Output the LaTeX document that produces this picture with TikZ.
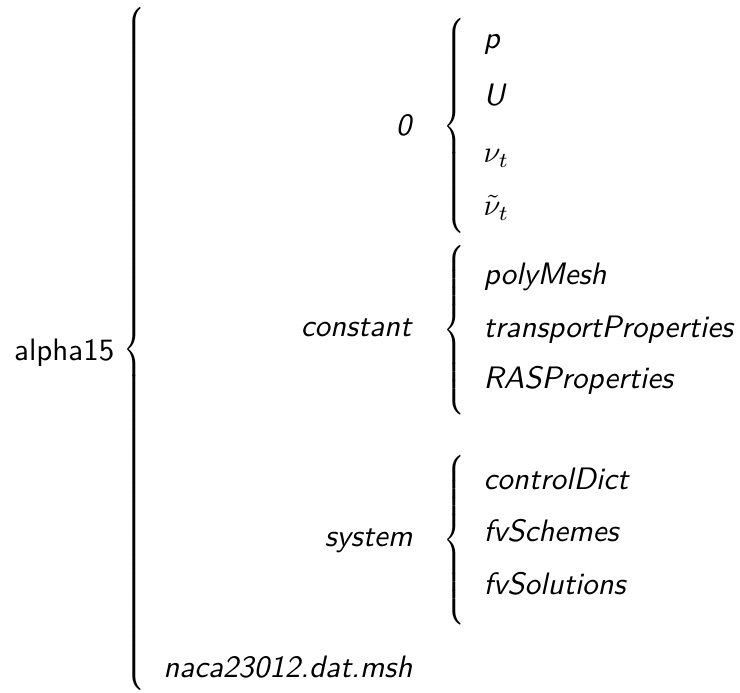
\documentclass[tikz,border=0pt]{standalone}
\usepackage{fontspec}
\usepackage{graphicx}
\usetikzlibrary{positioning}

% curly brace of a given total height, stretched to fit exactly
\newcommand\treebrace[1]{\resizebox*{0.8\width}{#1}{$\delimiterfactor=1000\delimitershortfall=0pt\left\{\vcenter{\hbox{\rule{0pt}{#1}}}\right.$}}

\begin{document}
\begin{tikzpicture}[x=0.329pt,y=-0.329pt]
      \tikzset{
        every node/.style={inner sep=0pt,font=\fontsize{10.2pt}{12pt}\selectfont\sffamily\itshape},
        dir/.style={anchor=base east},
        file/.style={anchor=base west},
        curly/.style={anchor=west}
      }
      \useasboundingbox (0,0) rectangle (740,693);

      \node[dir,font=\fontsize{10.2pt}{12pt}\selectfont\sffamily] (case) at (115,361) {alpha15};
      \node[curly] (bcase) at (123,349) {\treebrace{224.7pt}};

      \node[dir] (zero) at (412,136) {0};
      \node[curly] (bzero) at (443,126) {\treebrace{70.7pt}};
      \node[file] (p) at (483,49) {p};
      \node[file] (U) at (483,106) {U};
      \node[file] (nut) at (483,163) {$\nu_t$};
      \node[file] (nutt) at (483,216) {$\tilde{\nu}_t$};

      \node[dir] (const) at (412,337) {constant};
      \node[curly] (bconst) at (443,330) {\treebrace{55.9pt}};
      \node[file] (mesh) at (483,285) {polyMesh};
      \node[file] (trans) at (483,338) {transportProperties};
      \node[file] (ras) at (483,389) {RASProperties};

      \node[dir] (sys) at (413,547) {system};
      \node[curly] (bsys) at (443,540) {\treebrace{55.9pt}};
      \node[file] (ctrl) at (483,490) {controlDict};
      \node[file] (schemes) at (483,542) {fvSchemes};
      \node[file] (solution) at (483,595) {fvSolutions};

      \node[dir] (msh) at (413,678) {naca23012.dat.msh};
\end{tikzpicture}
\end{document}
